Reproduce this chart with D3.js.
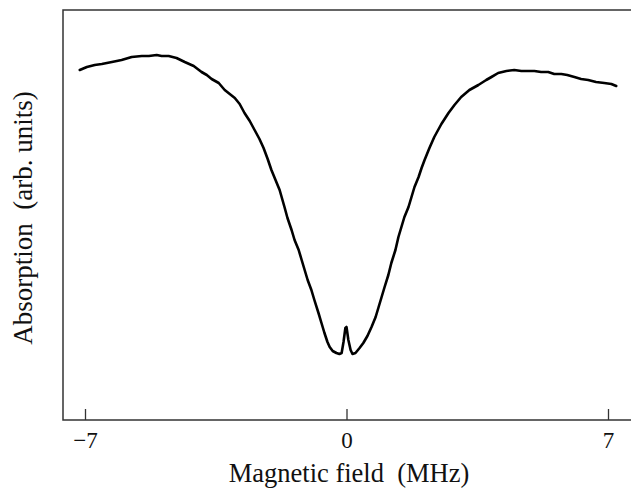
<!DOCTYPE html>
<html>
<head>
<meta charset="utf-8">
<script src="https://cdn.jsdelivr.net/npm/d3@7"></script>
<style>
	body { margin: 0; background: #fff; }
	svg text { font-family: "Liberation Serif", "DejaVu Serif", serif; fill: #111; }
</style>
</head>
<body>
<svg id="chart" width="631" height="491"></svg>
<script>
// field in MHz, absorption in arb. units
var field = [-7.14, -6.95, -6.74, -6.55, -6.28, -6.02, -5.75, -5.48, -5.29, -5.08,
	-4.95, -4.76, -4.55, -4.33, -4.09, -3.88, -3.74, -3.61, -3.42, -3.26,
	-2.99, -2.86, -2.73, -2.59, -2.46, -2.33, -2.22, -2.11, -2.01, -1.90,
	-1.79, -1.66, -1.58, -1.47, -1.39, -1.28, -1.20, -1.12, -1.04, -0.94,
	-0.86, -0.75, -0.67, -0.59, -0.51, -0.45, -0.37, -0.27, -0.19, -0.13,
	-0.08, -0.03, 0.00, 0.05, 0.11, 0.16, 0.24, 0.35, 0.45, 0.56,
	0.67, 0.78, 0.86, 0.94, 1.02, 1.12, 1.20, 1.31, 1.39, 1.47,
	1.55, 1.66, 1.74, 1.82, 1.93, 2.01, 2.09, 2.22, 2.35, 2.54,
	2.73, 2.89, 3.07, 3.29, 3.53, 3.74, 3.88, 4.06, 4.28, 4.49,
	4.68, 4.87, 5.03, 5.21, 5.40, 5.56, 5.75, 5.91, 6.10, 6.28,
	6.47, 6.68, 6.90, 7.09, 7.22];
var absorption = [3.58, 3.61, 3.63, 3.64, 3.66, 3.68, 3.71, 3.72, 3.72, 3.73,
	3.72, 3.72, 3.70, 3.66, 3.62, 3.56, 3.53, 3.49, 3.45, 3.38,
	3.30, 3.24, 3.15, 3.07, 2.98, 2.89, 2.80, 2.69, 2.58, 2.48,
	2.38, 2.21, 2.10, 1.98, 1.88, 1.78, 1.68, 1.58, 1.48, 1.38,
	1.28, 1.15, 1.05, 0.95, 0.86, 0.81, 0.77, 0.75, 0.74, 0.75,
	0.86, 1.00, 1.01, 0.88, 0.78, 0.74, 0.75, 0.80, 0.85, 0.92,
	1.01, 1.11, 1.21, 1.31, 1.41, 1.53, 1.65, 1.78, 1.91, 2.01,
	2.11, 2.21, 2.31, 2.41, 2.51, 2.60, 2.68, 2.80, 2.91, 3.04,
	3.15, 3.23, 3.31, 3.38, 3.43, 3.48, 3.51, 3.55, 3.57, 3.58,
	3.57, 3.57, 3.57, 3.56, 3.56, 3.54, 3.54, 3.53, 3.51, 3.49,
	3.48, 3.46, 3.45, 3.44, 3.42];
var xTicks = [-7, 0, 7];
var xLabel = "Magnetic field  (MHz)";
var yLabel = "Absorption  (arb. units)";

var svg = d3.select("#chart");
var frameLeft = 63, frameRight = 631, frameTop = 10, frameBottom = 420;

var x = d3.scaleLinear().domain([-7, 7]).range([85, 608]);
var y = d3.scaleLinear().domain([0.08, 4.18]).range([frameBottom, frameTop]);

// frame: top, left, bottom (open on the right)
svg.append("path")
	.attr("d", "M" + frameRight + "," + frameTop + " H" + frameLeft + " V" + frameBottom + " H" + frameRight)
	.attr("fill", "none")
	.attr("stroke", "#333")
	.attr("stroke-width", 1.5);

// inward ticks on the bottom axis
var axis = d3.axisBottom(x)
	.tickValues(xTicks)
	.tickSizeInner(-11)
	.tickSizeOuter(0)
	.tickFormat(function (d) { return d < 0 ? "\u2212" + Math.abs(d) : d; });

var g = svg.append("g")
	.attr("transform", "translate(0," + frameBottom + ")")
	.call(axis);
g.select(".domain").remove();
g.selectAll(".tick line").attr("stroke", "#333").attr("stroke-width", 1.3);
g.selectAll(".tick text")
	.attr("y", 28)
	.attr("dy", null)
	.attr("font-size", 23)
	.attr("font-family", "Liberation Serif, serif")
	.attr("fill", "#111");

svg.append("text")
	.attr("x", 349)
	.attr("y", 482)
	.attr("text-anchor", "middle")
	.attr("font-size", 26.5)
	.attr("xml:space", "preserve")
	.text(xLabel);

svg.append("text")
	.attr("transform", "translate(32,218) rotate(-90)")
	.attr("text-anchor", "middle")
	.attr("font-size", 27)
	.attr("xml:space", "preserve")
	.text(yLabel);

var line = d3.line()
	.x(function (d, i) { return x(field[i]); })
	.y(function (d) { return y(d); });

svg.append("path")
	.datum(absorption)
	.attr("d", line)
	.attr("fill", "none")
	.attr("stroke", "#000")
	.attr("stroke-width", 2.6)
	.attr("stroke-linejoin", "round")
	.attr("stroke-linecap", "round");
</script>
</body>
</html>
